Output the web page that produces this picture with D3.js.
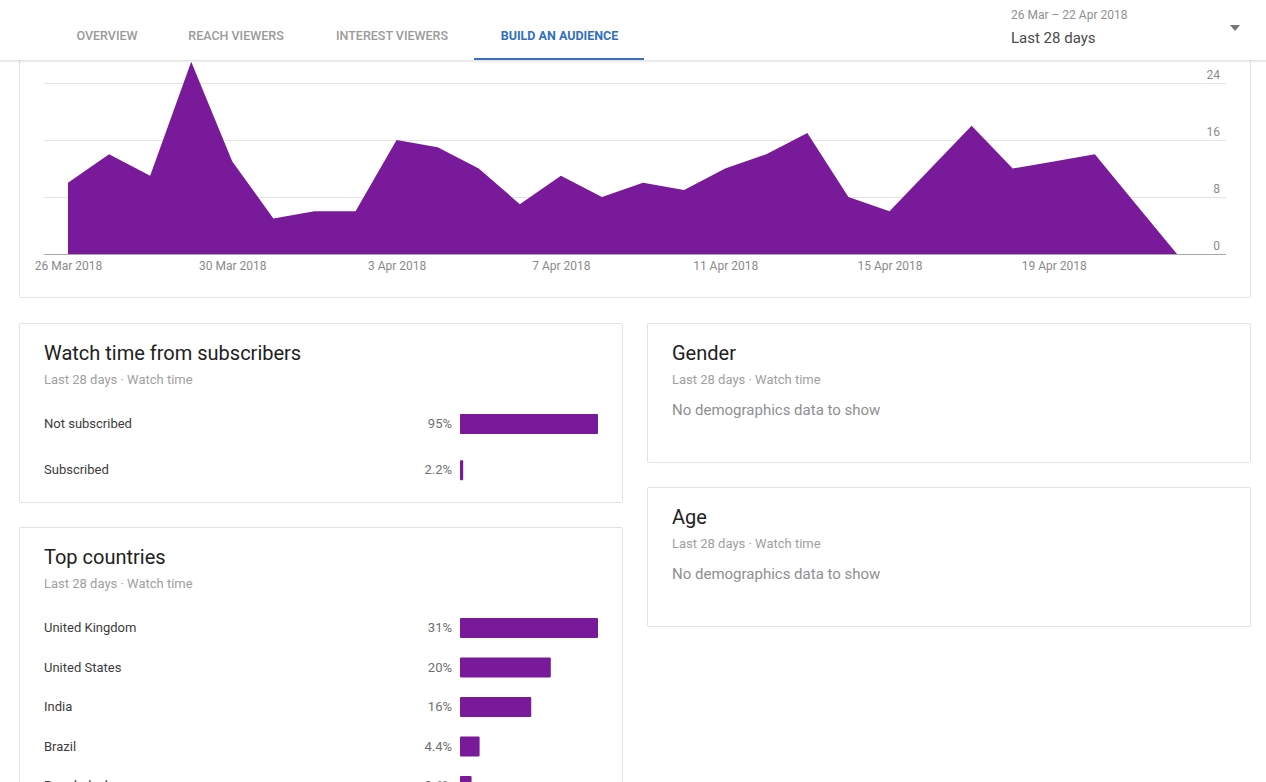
<!DOCTYPE html>
<html>
<head>
<meta charset="utf-8">
<script src="https://cdn.jsdelivr.net/npm/d3@7"></script>
<style>
  html, body { margin: 0; padding: 0; background: #fff; overflow: hidden; }
  svg { display: block; font-family: Roboto, sans-serif; }
  .axis text { font-size: 12px; fill: #8a8a8a; font-family: Roboto, sans-serif; }
</style>
</head>
<body>
<svg id="chart" width="1266" height="782"></svg>
<script>
// chart data
const days = d3.range(28).map(i => new Date(2018, 2, 26 + i));
const watchTime = [10, 14, 11, 27, 13, 5, 6, 6, 16, 15, 12, 7, 11, 8, 10, 9, 12, 14, 17, 8, 6, 12, 18, 12, 13, 14, 7, 0];
const yTicks = [0, 8, 16, 24];

const subscriberLabels = ['Not subscribed', 'Subscribed'];
const subscriberValues = [95, 2.2];

const countryLabels = ['United Kingdom', 'United States', 'India', 'Brazil', 'Bangladesh'];
const countryValues = [31, 20.4, 16, 4.4, 2.6];

const tabs = ['OVERVIEW', 'REACH VIEWERS', 'INTEREST VIEWERS', 'BUILD AN AUDIENCE'];
const tabX = [107, 236, 392, 559.5];

const purple = '#791a9b';
const svg = d3.select('#chart');

const defs = svg.append('defs');
const shadow = defs.append('filter').attr('id', 'headShadow')
  .attr('x', '-5%').attr('y', '-20%').attr('width', '110%').attr('height', '150%');
shadow.append('feDropShadow').attr('dx', 0).attr('dy', 1).attr('stdDeviation', 1.5)
  .attr('flood-color', '#000').attr('flood-opacity', 0.16);

function card(x, y, w, h) {
  svg.append('rect')
    .attr('x', x + 0.5).attr('y', y + 0.5)
    .attr('width', w - 1).attr('height', h - 1)
    .attr('rx', 1)
    .attr('fill', '#fff').attr('stroke', '#e2e2e2');
}

function cardTitle(x, y, title, note) {
  svg.append('text').attr('x', x).attr('y', y)
    .attr('font-size', 20).attr('fill', '#212121').text(title);
  svg.append('text').attr('x', x).attr('y', y + 24)
    .attr('font-size', 13).attr('fill', '#a0a0a0').text('Last 28 days · Watch time');
  if (note) {
    svg.append('text').attr('x', x).attr('y', y + 55)
      .attr('font-size', 15).attr('fill', '#8f8f8f').text(note);
  }
}

// top area chart
card(19, 20, 1232, 278);

const x = d3.scaleTime().domain([days[0], days[27]]).range([68, 1177]);
const y = d3.scaleLinear().domain([0, 24]).range([254, 83]);

const grid = svg.append('g');
grid.selectAll('line').data(yTicks.filter(d => d > 0)).join('line')
  .attr('x1', 44).attr('x2', 1226)
  .attr('y1', d => y(d) + 0.5).attr('y2', d => y(d) + 0.5)
  .attr('stroke', '#e4e4e4');

const area = d3.area()
  .x((d, i) => x(days[i]))
  .y0(y(0))
  .y1(d => y(d));

svg.append('path').datum(watchTime).attr('d', area).attr('fill', purple);

svg.append('line')
  .attr('x1', 44).attr('x2', 1226)
  .attr('y1', y(0) + 0.5).attr('y2', y(0) + 0.5)
  .attr('stroke', '#a8a8a8');

const xAxis = d3.axisBottom(x)
  .tickValues(days.filter((d, i) => i % 4 === 0 && i < 27))
  .tickFormat(d3.timeFormat('%-d %b %Y'))
  .tickSize(0).tickPadding(0);
svg.append('g').attr('class', 'axis')
  .attr('transform', 'translate(0,259)')
  .call(xAxis)
  .call(g => g.select('.domain').remove())
  .selectAll('text').attr('dy', '0.9em');

const yAxis = d3.axisRight(y).tickValues(yTicks).tickSize(0).tickPadding(0);
svg.append('g').attr('class', 'axis')
  .attr('transform', 'translate(1220,-8)')
  .call(yAxis)
  .call(g => g.select('.domain').remove())
  .selectAll('text').attr('text-anchor', 'end');

// horizontal bar panels
const pctFormat = v => v >= 10 ? Math.round(v) + '%' : v.toFixed(1) + '%';

function barPanel(top, labels, values) {
  const rowY = d3.scaleBand()
    .domain(labels)
    .range([top, top + labels.length * 36])
    .paddingInner(16 / 36).paddingOuter(0).align(0);
  const barX = d3.scaleLinear().domain([0, d3.max(values)]).range([460, 598]);
  const g = svg.append('g');
  const rows = g.selectAll('g').data(labels).join('g');
  rows.append('rect')
    .attr('x', barX(0))
    .attr('y', d => rowY(d))
    .attr('width', (d, i) => barX(values[i]) - barX(0))
    .attr('height', 20)
    .attr('rx', 1)
    .attr('fill', purple);
  rows.append('text')
    .attr('x', 44).attr('y', d => rowY(d) + 14)
    .attr('font-size', 13).attr('fill', '#3c3c3c').text(d => d);
  rows.append('text')
    .attr('x', 452).attr('y', d => rowY(d) + 14)
    .attr('text-anchor', 'end')
    .attr('font-size', 13).attr('fill', '#6f6f6f')
    .text((d, i) => pctFormat(values[i]));
}

card(19, 323, 604, 180);
cardTitle(44, 360, 'Watch time from subscribers');
barPanel(414, subscriberLabels, subscriberValues);

card(19, 527, 604, 300);
cardTitle(44, 564, 'Top countries');
barPanel(618, countryLabels, countryValues);

card(647, 323, 604, 140);
cardTitle(672, 360, 'Gender', 'No demographics data to show');

card(647, 487, 604, 140);
cardTitle(672, 524, 'Age', 'No demographics data to show');

// fixed page header on top of the chart
svg.append('rect')
  .attr('x', -10).attr('y', -10).attr('width', 1286).attr('height', 70)
  .attr('fill', '#fff').attr('filter', 'url(#headShadow)');

svg.append('g').selectAll('text').data(tabs).join('text')
  .attr('x', (d, i) => tabX[i]).attr('y', 40)
  .attr('text-anchor', 'middle')
  .attr('font-size', 12.5)
  .attr('font-weight', (d, i) => i === 3 ? 700 : 500)
  .attr('fill', (d, i) => i === 3 ? '#3170c0' : '#9a9a9a')
  .text(d => d);

svg.append('rect')
  .attr('x', 474).attr('y', 58).attr('width', 170).attr('height', 2)
  .attr('fill', '#3b70be');

svg.append('text').attr('x', 1011).attr('y', 19)
  .attr('font-size', 12).attr('fill', '#909090').text('26 Mar – 22 Apr 2018');
svg.append('text').attr('x', 1011).attr('y', 43)
  .attr('font-size', 15).attr('fill', '#4a4a4a').text('Last 28 days');

svg.append('path')
  .attr('d', d3.line()([[1230, 25], [1240, 25], [1235, 31]]) + 'Z')
  .attr('fill', '#757575');
</script>
</body>
</html>
